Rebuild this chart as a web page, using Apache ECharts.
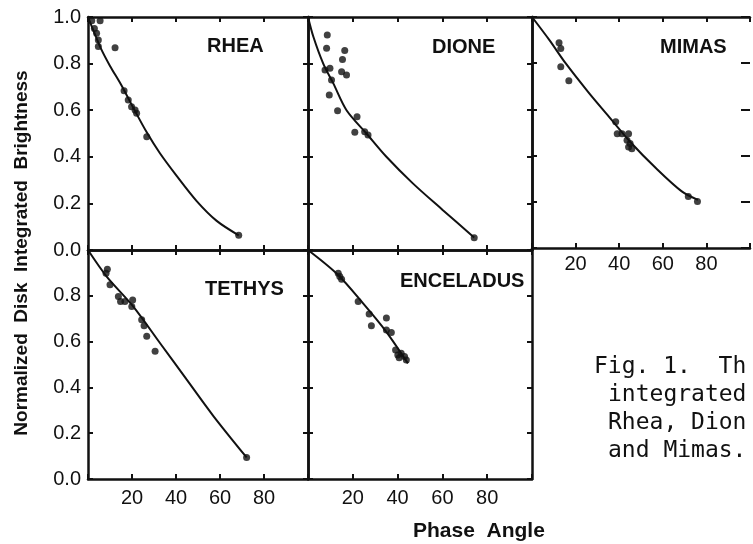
<!DOCTYPE html>
<html>
<head>
<meta charset="utf-8">
<script src="https://cdn.jsdelivr.net/npm/echarts@6/dist/echarts.min.js"></script>
<style>
  html, body { margin: 0; padding: 0; background: #fff; }
  #chart { width: 753px; height: 544px; }
</style>
</head>
<body>
<div id="chart"></div>
<script>
// Phase angle (deg) vs normalized disk-integrated brightness for five satellites.
const panelNames = ['RHEA', 'DIONE', 'MIMAS', 'TETHYS', 'ENCELADUS'];
const xTickLabels = ['20', '40', '60', '80'];
const yTickLabels = ['0.0', '0.2', '0.4', '0.6', '0.8', '1.0'];
const xAxisTitle = 'Phase  Angle';
const yAxisTitle = 'Normalized  Disk  Integrated  Brightness';
const captionLines = ['Fig. 1.  Th', 'integrated', 'Rhea, Dion', 'and Mimas.'];

// fitted phase curves: [phase angle, brightness]
const rheaCurve = [[0, 1.0], [3, 0.93], [6, 0.862], [10, 0.79], [15, 0.71], [20.6, 0.61], [26.7, 0.505], [32.7, 0.415], [40.3, 0.318], [49.4, 0.21], [58.5, 0.125], [68.5, 0.063]];
const dioneCurve = [[0, 1.0], [2.4, 0.915], [6.8, 0.8], [11.3, 0.715], [17.2, 0.6], [26.1, 0.5], [35, 0.4], [46.8, 0.286], [60.1, 0.172], [72, 0.072], [74.2, 0.054]];
const mimasCurve = [[0, 1.0], [8, 0.9], [15.4, 0.8], [25.8, 0.675], [34.7, 0.575], [45, 0.46], [56.9, 0.345], [68.7, 0.245], [76.1, 0.208]];
const tethysCurve = [[0, 1.0], [8.5, 0.884], [20.6, 0.753], [32.7, 0.594], [44.8, 0.435], [57, 0.275], [72.1, 0.094]];
const enceladusCurve = [[0, 1.0], [13, 0.895], [24.6, 0.767], [34.8, 0.645], [44.6, 0.505]];

// observations: [phase angle, brightness]
const rheaDots = [[1.7, 0.984], [5.5, 0.984], [2.9, 0.951], [3.9, 0.93], [4.7, 0.901], [4.7, 0.873], [12.3, 0.868], [16.4, 0.684], [18.3, 0.644], [19.8, 0.615], [21.4, 0.601], [22.1, 0.587], [26.7, 0.486], [68.5, 0.063]];
const dioneDots = [[8.6, 0.923], [8.3, 0.866], [16.4, 0.856], [15.4, 0.818], [7.6, 0.773], [9.8, 0.78], [15, 0.765], [17.2, 0.751], [10.5, 0.73], [9.5, 0.665], [13.2, 0.598], [21.9, 0.572], [20.9, 0.505], [25.3, 0.508], [26.8, 0.494], [74.2, 0.053]];
const mimasDots = [[12.4, 0.888], [13.2, 0.864], [13.2, 0.785], [16.9, 0.724], [38.4, 0.546], [39.1, 0.495], [41.3, 0.495], [44.3, 0.495], [43.6, 0.466], [45, 0.452], [44.3, 0.437], [45.8, 0.43], [71.7, 0.223], [75.9, 0.201]];
const tethysDots = [[8.8, 0.916], [8.2, 0.898], [10, 0.848], [13.8, 0.797], [14.8, 0.775], [16.8, 0.775], [20.3, 0.782], [19.9, 0.753], [24.4, 0.695], [25.5, 0.669], [26.7, 0.623], [30.5, 0.558], [72.1, 0.094]];
const enceladusDots = [[13.5, 0.898], [14.2, 0.884], [15, 0.872], [22.4, 0.775], [27.3, 0.721], [28.3, 0.669], [35, 0.703], [35, 0.651], [37.2, 0.64], [39.1, 0.563], [40.1, 0.541], [41.6, 0.549], [43.1, 0.535], [43.9, 0.52], [40.7, 0.529]];

const curves = [rheaCurve, dioneCurve, mimasCurve, tethysCurve, enceladusCurve];
const dots = [rheaDots, dioneDots, mimasDots, tethysDots, enceladusDots];

// panel frames in pixels; the MIMAS frame runs past the right edge of the page
const panels = [
  { left: 88, top: 17, width: 220, height: 233, xLabels: false, yLabels: 'all', xMargin: 6, rightLine: true, name: [207, 47] },
  { left: 308, top: 17, width: 224, height: 233, xLabels: false, yLabels: 'none', xMargin: 6, rightLine: true, name: [432, 48] },
  { left: 532, top: 17, width: 224, height: 231, xLabels: true, yLabels: 'none', xMargin: 6, rightLine: false, name: [660, 48] },
  { left: 88, top: 250, width: 220, height: 229, xLabels: true, yLabels: 'noTop', xMargin: 9, rightLine: true, name: [205, 290] },
  { left: 308, top: 250, width: 224, height: 229, xLabels: true, yLabels: 'none', xMargin: 9, rightLine: true, name: [400, 282] }
];

const ink = '#111';
const font = 'Liberation Sans, Arial, sans-serif';

const grid = [], xAxis = [], yAxis = [], series = [], graphic = [];

function tickStyle(len) {
  return { show: true, inside: true, length: len || 5, lineStyle: { color: ink, width: 2 } };
}

panels.forEach((p, i) => {
  grid.push({ left: p.left, top: p.top, width: p.width, height: p.height, containLabel: false });
  const xLab = {
    show: p.xLabels,
    margin: p.xMargin,
    color: ink,
    fontFamily: font,
    fontSize: 20,
    formatter: v => { const k = xTickLabels.indexOf(String(v)); return k >= 0 ? xTickLabels[k] : ''; }
  };
  const yLab = {
    show: p.yLabels !== 'none',
    margin: 7,
    color: ink,
    fontFamily: font,
    fontSize: 20,
    formatter: v => {
      const idx = Math.round(v * 5);
      if (p.yLabels === 'noTop' && idx === 5) return '';
      return yTickLabels[idx] || '';
    }
  };
  const axLine = { show: true, onZero: false, lineStyle: { color: ink, width: 2.5 } };
  xAxis.push({ type: 'value', gridIndex: i, position: 'bottom', min: 0, max: 100, interval: 20,
    axisLine: axLine, axisTick: tickStyle(), axisLabel: xLab, splitLine: { show: false } });
  xAxis.push({ type: 'value', gridIndex: i, position: 'top', min: 0, max: 100, interval: 20,
    axisLine: axLine, axisTick: tickStyle(), axisLabel: { show: false }, splitLine: { show: false } });
  yAxis.push({ type: 'value', gridIndex: i, position: 'left', min: 0, max: 1, interval: 0.2,
    axisLine: axLine, axisTick: tickStyle(), axisLabel: yLab, splitLine: { show: false } });
  yAxis.push({ type: 'value', gridIndex: i, position: 'right', min: 0, max: 1, interval: 0.2,
    axisLine: Object.assign({}, axLine, { show: p.rightLine }),
    axisTick: tickStyle(p.rightLine ? 5 : 9), axisLabel: { show: false }, splitLine: { show: false } });

  series.push({
    type: 'line', xAxisIndex: 2 * i, yAxisIndex: 2 * i, data: curves[i], smooth: 0.3,
    showSymbol: false, lineStyle: { color: ink, width: 2 }, silent: true, animation: false
  });
  series.push({
    type: 'scatter', xAxisIndex: 2 * i, yAxisIndex: 2 * i, data: dots[i], symbolSize: 7,
    itemStyle: { color: ink }, silent: true, animation: false
  });

  graphic.push({
    type: 'text', left: p.name[0], top: p.name[1] - 11,
    style: { text: panelNames[i], fill: ink, font: '600 20px ' + font }
  });
});

graphic.push({
  type: 'text', left: 413, top: 521,
  style: { text: xAxisTitle, fill: ink, font: 'bold 21px ' + font }
});
graphic.push({
  type: 'text', x: 22, y: 253, rotation: Math.PI / 2,
  style: { text: yAxisTitle, fill: ink, font: 'bold 19px ' + font, align: 'center', verticalAlign: 'middle' }
});
captionLines.forEach((line, k) => {
  graphic.push({
    type: 'text', x: k === 0 ? 594 : 608, y: 367 + k * 28,
    style: { text: line, fill: ink, font: '23px DejaVu Sans Mono, monospace', verticalAlign: 'middle' }
  });
});

const chart = echarts.init(document.getElementById('chart'), null, { renderer: 'canvas' });
chart.setOption({ animation: false, backgroundColor: '#fff', grid, xAxis, yAxis, series, graphic });
</script>
</body>
</html>
